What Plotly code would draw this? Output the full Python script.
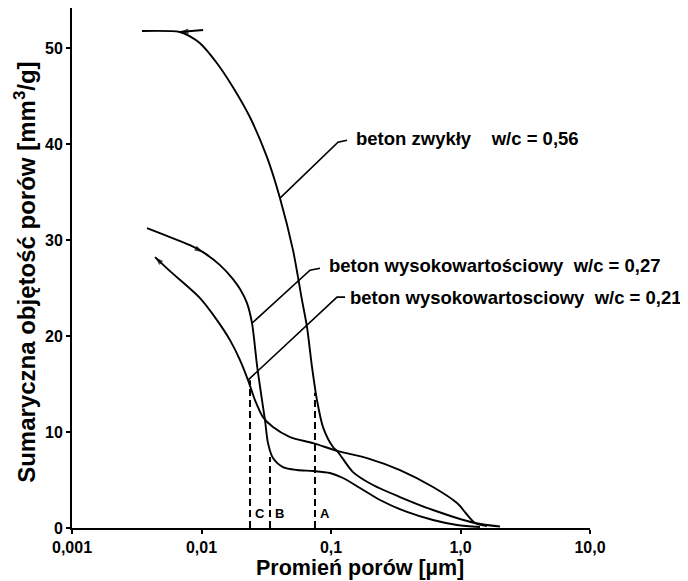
import numpy as np
import plotly.graph_objects as go

# --- data ---
# beton zwykły w/c = 0,56
r_056 = [0.00347, 0.0068, 0.00815, 0.00974, 0.01317, 0.0175, 0.02368, 0.03204, 0.04038,
         0.05088, 0.05972, 0.06528, 0.07136, 0.07795, 0.08674, 0.1036, 0.1133, 0.1479,
         0.2110, 0.3410, 0.6132, 1.294, 2.018]
v_056 = [51.8, 51.7, 51.25, 50.52, 48.44, 45.94, 42.81, 38.65, 34.38,
         28.96, 23.75, 20.94, 16.77, 13.33, 10.52, 8.44, 7.92, 5.83,
         4.48, 3.23, 1.875, 0.52, 0.15]
r_056_ext = [0.0068, 0.0103]
v_056_ext = [51.7, 51.9]

# beton wysokowartościowy w/c = 0,27
r_027 = [0.003795, 0.005226, 0.00815, 0.01027, 0.0139, 0.0175, 0.01983, 0.02246, 0.02455,
         0.02683, 0.02932, 0.03093, 0.03262, 0.03565, 0.04258, 0.05464, 0.07261, 0.09824,
         0.1238, 0.1675, 0.2390, 0.3863, 0.6132, 0.9397, 1.414]
v_027 = [31.25, 30.52, 29.48, 28.75, 27.40, 25.94, 24.90, 23.44, 21.35,
         16.98, 13.33, 11.25, 8.85, 7.29, 6.35, 6.04, 5.94, 5.73,
         5.21, 4.17, 2.92, 1.67, 0.83, 0.31, 0.1]

# beton wysokowartosciowy w/c = 0,21
r_021 = [0.004375, 0.005711, 0.00974, 0.01317, 0.0166, 0.01983, 0.02286, 0.02589, 0.02985,
         0.03565, 0.04826, 0.07261, 0.1133, 0.1897, 0.3410, 0.6132, 0.9397, 1.294, 1.602]
v_021 = [28.23, 26.77, 23.96, 21.67, 19.58, 17.5, 15.42, 13.33, 11.56,
         10.52, 9.48, 8.85, 8.02, 7.29, 6.04, 4.27, 2.60, 0.52, 0.21]

# characteristic radii (dashed lines) A, B, C
mark_labels = ["A", "B", "C"]
mark_r = [0.0752, 0.0338, 0.0237]
mark_v = [14.1, 7.4, 15.4]

x_tickvals = [0.001, 0.01, 0.1, 1, 10]
x_ticktext = ["0,001", "0,01", "0,1", "1,0", "10,0"]
y_tickvals = [0, 10, 20, 30, 40, 50]

series_text = ["beton zwykły\u00a0\u00a0\u00a0\u00a0w/c = 0,56",
               "beton wysokowartościowy\u00a0\u00a0w/c = 0,27",
               "beton wysokowartosciowy\u00a0\u00a0w/c = 0,21"]
# leader: (point on curve), (elbow), (end / text start)
leader_r = [[0.04038, 0.1133, 0.1329], [0.02455, 0.06883, 0.08226], [0.02286, 0.1113, 0.1283]]
leader_v = [[34.38, 40.21, 40.42], [21.35, 26.875, 27.08], [15.42, 24.06, 24.06]]
text_r = [0.1532, 0.0948, 0.1377]
text_v = [40.63, 27.4, 24.06]

FONT = "Liberation Sans"
line = dict(color="black", width=1.9)

fig = go.Figure()
fig.add_trace(go.Scatter(x=r_056, y=v_056, mode="lines", line=dict(line, shape="spline", smoothing=0.8)))
fig.add_trace(go.Scatter(x=r_056_ext, y=v_056_ext, mode="lines", line=line))
fig.add_trace(go.Scatter(x=r_027, y=v_027, mode="lines", line=dict(line, shape="spline", smoothing=0.8)))
fig.add_trace(go.Scatter(x=r_021, y=v_021, mode="lines", line=dict(line, shape="spline", smoothing=0.8)))

# small hysteresis arrowheads (oriented along the curve)
for xs, ys in [([r_056_ext[1], r_056_ext[0]], [v_056_ext[1], v_056_ext[0]]),
               ([r_027[2], r_027[3]], [v_027[2], v_027[3]]),
               ([r_021[1], r_021[0]], [v_021[1], v_021[0]])]:
    fig.add_trace(go.Scatter(x=xs, y=ys, mode="markers",
                             marker=dict(symbol="arrow", angleref="previous", size=[0, 9],
                                         color="black", line=dict(width=0))))

for r, v in zip(mark_r, mark_v):
    fig.add_trace(go.Scatter(x=[r, r], y=[0, v], mode="lines",
                             line=dict(color="black", width=2, dash="7px,4px")))

for lr, lv in zip(leader_r, leader_v):
    fig.add_trace(go.Scatter(x=lr, y=lv, mode="lines", line=dict(color="black", width=1.6)))

annotations = []
for t, r, v in zip(series_text, text_r, text_v):
    annotations.append(dict(x=np.log10(r), y=v, xref="x", yref="y", text=t, showarrow=False,
                            xanchor="left", yanchor="middle", borderpad=0,
                            font=dict(family=FONT, size=18.5, color="black", weight="bold")))

for lab, r in zip(mark_labels, mark_r):
    annotations.append(dict(x=np.log10(r), y=0, xref="x", yref="y", text=lab, showarrow=False,
                            xanchor="left", yanchor="bottom", xshift=3, yshift=5,
                            font=dict(family=FONT, size=13, color="black", weight="bold")))

# axis titles
annotations.append(dict(x=0.556, y=-0.077, xref="paper", yref="paper",
                        text="Promień porów [µm]", showarrow=False, xanchor="center", yanchor="middle",
                        font=dict(family=FONT, size=21.5, color="black", weight="bold")))
annotations.append(dict(x=-0.091, y=0.4923, xref="paper", yref="paper", textangle=-90,
                        text="Sumaryczna objętość porów [mm<sup>3</sup>/g]", showarrow=False,
                        xanchor="center", yanchor="middle",
                        font=dict(family=FONT, size=24, color="black", weight="bold")))

fig.update_layout(
    width=680, height=573,
    margin=dict(l=64, r=98, t=0, b=53),
    paper_bgcolor="white", plot_bgcolor="white",
    showlegend=False,
    annotations=annotations,
)
fig.update_xaxes(type="log", range=[-3, 1], tickvals=x_tickvals, ticktext=x_ticktext,
                 showline=True, linecolor="black", linewidth=2, ticks="outside", ticklen=4,
                 tickwidth=2, tickcolor="black", showgrid=False, zeroline=False,
                 tickfont=dict(family=FONT, size=16, color="black", weight="bold"))
fig.update_yaxes(range=[0, 54.2], tickvals=y_tickvals, showline=True, linecolor="black",
                 linewidth=2, ticks="outside", ticklen=4, tickwidth=2, tickcolor="black",
                 showgrid=False, zeroline=False,
                 tickfont=dict(family=FONT, size=16, color="black", weight="bold"))

fig.write_html("out.html")
